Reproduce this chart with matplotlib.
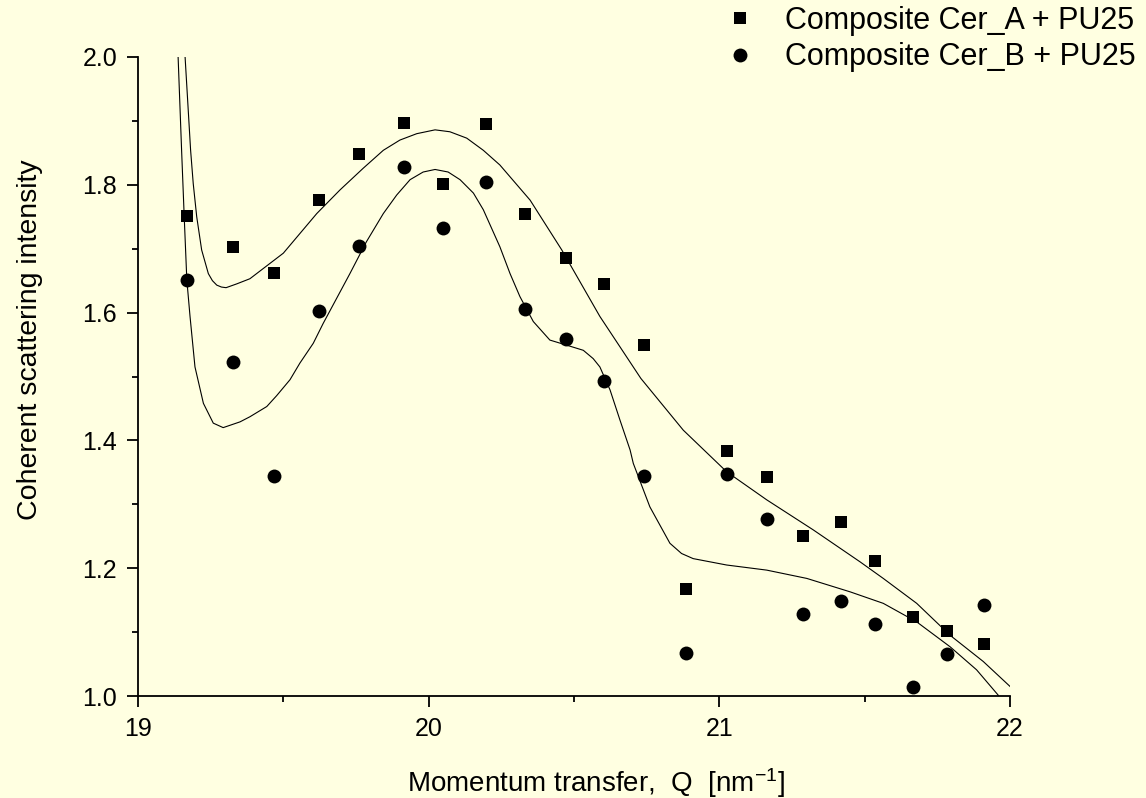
import matplotlib
matplotlib.use('Agg')
import matplotlib.pyplot as plt
from matplotlib.ticker import MultipleLocator, FormatStrFormatter

plt.rcParams['font.family'] = ['Liberation Sans', 'DejaVu Sans']
plt.rcParams['mathtext.fontset'] = 'custom'
plt.rcParams['mathtext.rm'] = 'Liberation Sans'
plt.rcParams['mathtext.it'] = 'Liberation Sans'

# measured points
q = [19.169, 19.328, 19.468, 19.624, 19.761, 19.914, 20.048, 20.198, 20.331,
     20.472, 20.602, 20.742, 20.884, 21.026, 21.164, 21.288, 21.417, 21.536,
     21.667, 21.784, 21.911]
cer_a = [1.751, 1.702, 1.662, 1.776, 1.848, 1.897, 1.802, 1.895, 1.755,
         1.686, 1.645, 1.550, 1.168, 1.384, 1.343, 1.251, 1.272, 1.211,
         1.124, 1.101, 1.081]
cer_b = [1.651, 1.523, 1.345, 1.602, 1.704, 1.828, 1.732, 1.805, 1.606,
         1.558, 1.493, 1.344, 1.068, 1.348, 1.277, 1.128, 1.148, 1.113,
         1.014, 1.065, 1.142]

# fitted curves
fit_a_q = [19.162, 19.181, 19.190, 19.202, 19.219, 19.242, 19.256, 19.271, 19.287,
           19.303, 19.340, 19.385, 19.408, 19.500, 19.615, 19.695, 19.775, 19.844,
           19.901, 19.959, 20.022, 20.073, 20.131, 20.188, 20.245, 20.349, 20.458,
           20.589, 20.730, 20.876, 21.025, 21.163, 21.323, 21.484, 21.564, 21.679,
           21.794, 21.908, 22.000]
fit_a_i = [2.000, 1.854, 1.802, 1.750, 1.698, 1.661, 1.650, 1.643, 1.640,
           1.639, 1.645, 1.653, 1.661, 1.693, 1.755, 1.792, 1.826, 1.854,
           1.870, 1.880, 1.886, 1.883, 1.873, 1.854, 1.831, 1.776, 1.698,
           1.594, 1.497, 1.416, 1.351, 1.307, 1.260, 1.210, 1.184, 1.145,
           1.095, 1.054, 1.015]
fit_b_q = [19.138, 19.150, 19.159, 19.168, 19.179, 19.196, 19.225, 19.259, 19.293,
           19.351, 19.385, 19.443, 19.477, 19.523, 19.557, 19.603, 19.637, 19.729,
           19.786, 19.844, 19.890, 19.936, 19.981, 20.022, 20.067, 20.108, 20.154,
           20.188, 20.245, 20.280, 20.314, 20.360, 20.417, 20.475, 20.532, 20.566,
           20.589, 20.624, 20.658, 20.693, 20.704, 20.761, 20.830, 20.870, 20.910,
           21.025, 21.163, 21.301, 21.450, 21.564, 21.679, 21.794, 21.885, 21.960]
fit_b_i = [2.000, 1.854, 1.750, 1.651, 1.594, 1.515, 1.458, 1.427, 1.420,
           1.429, 1.437, 1.453, 1.470, 1.495, 1.521, 1.552, 1.583, 1.661,
           1.711, 1.755, 1.784, 1.808, 1.820, 1.824, 1.820, 1.808, 1.787,
           1.761, 1.703, 1.661, 1.625, 1.586, 1.557, 1.549, 1.541, 1.528,
           1.515, 1.479, 1.432, 1.385, 1.364, 1.296, 1.239, 1.223, 1.215,
           1.205, 1.197, 1.184, 1.163, 1.145, 1.116, 1.077, 1.041, 1.001]

labels = ['Composite Cer_A + PU25', 'Composite Cer_B + PU25']

bg = '#FFFFE1'
fig = plt.figure(figsize=(11.46, 7.98), dpi=100, facecolor=bg)
ax = fig.add_axes([138 / 1146, 1 - 696 / 798, 872 / 1146, 639 / 798])
ax.set_facecolor(bg)

ax.plot(fit_a_q, fit_a_i, color='black', lw=0.8, solid_joinstyle='round')
ax.plot(fit_b_q, fit_b_i, color='black', lw=0.8, solid_joinstyle='round')
h1, = ax.plot(q, cer_a, 's', color='black', ms=8.6, mew=0, label=labels[0])
h2, = ax.plot(q, cer_b, 'o', color='black', ms=10, mew=0, label=labels[1])

ax.set_xlim(19, 22)
ax.set_ylim(1.0, 2.0)
ax.xaxis.set_major_locator(MultipleLocator(1))
ax.xaxis.set_minor_locator(MultipleLocator(0.5))
ax.yaxis.set_major_locator(MultipleLocator(0.2))
ax.yaxis.set_minor_locator(MultipleLocator(0.1))
ax.yaxis.set_major_formatter(FormatStrFormatter('%.1f'))

for side in ['top', 'right']:
    ax.spines[side].set_visible(False)
for side in ['left', 'bottom']:
    ax.spines[side].set_linewidth(1.3)
ax.tick_params(which='major', length=8, width=1.3, labelsize=18, pad=7)
ax.tick_params(which='minor', length=4, width=1.3)

ax.set_xlabel(r'Momentum transfer,  Q  [nm$^{-1}$]', fontsize=20)
ax.xaxis.set_label_coords(0.525, -0.11)
ax.set_ylabel('Coherent scattering intensity', fontsize=20.5)
ax.yaxis.set_label_coords(-0.109, 0.557)

fig.legend(handles=[h1, h2], labels=labels, loc='upper left',
           bbox_to_anchor=(694 / 1146, 1.027), frameon=False, fontsize=22,
           handlelength=1.2, handletextpad=0.89, labelspacing=0.21)

fig.savefig('out.png', dpi=100, facecolor=bg)
